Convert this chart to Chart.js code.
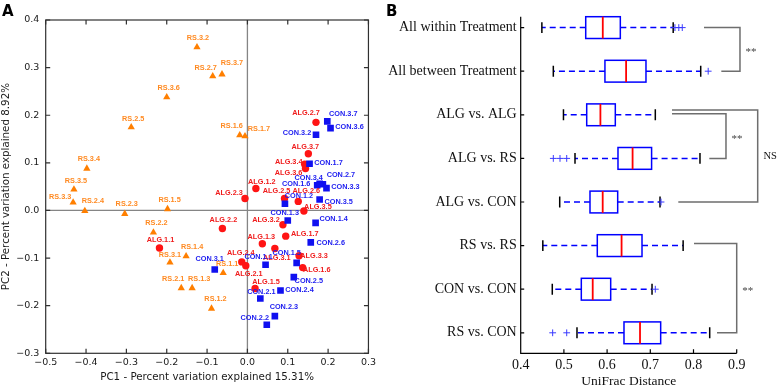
<!DOCTYPE html>
<html><head><meta charset="utf-8">
<script src="https://cdn.jsdelivr.net/npm/chart.js@4.4.1/dist/chart.umd.min.js"></script>
<style>
html,body{margin:0;padding:0;background:#fff;}
#wrap{position:relative;width:778px;height:388px;overflow:hidden;background:#fff;}
canvas{position:absolute;top:0;}
#ca{left:0;} #cb{left:380px;}
</style></head><body>
<div id="wrap"><canvas id="ca" width="380" height="388"></canvas><canvas id="cb" width="398" height="388"></canvas></div>
<script>
// ================= Panel A : PCoA =================
const rsLabels = ['RS.1.1','RS.1.2','RS.1.3','RS.1.4','RS.1.5','RS.1.6','RS.1.7','RS.2.1','RS.2.2','RS.2.3','RS.2.4','RS.2.5','RS.2.7','RS.3.1','RS.3.2','RS.3.3','RS.3.4','RS.3.5','RS.3.6','RS.3.7'];
const rsPC1 = [-0.060,-0.089,-0.137,-0.152,-0.198,-0.019,-0.006,-0.164,-0.233,-0.304,-0.403,-0.288,-0.086,-0.192,-0.125,-0.432,-0.398,-0.430,-0.200,-0.063];
const rsPC2 = [-0.131,-0.206,-0.163,-0.096,0.003,0.158,0.156,-0.163,-0.046,-0.007,-0.001,0.175,0.282,-0.109,0.343,0.017,0.088,0.044,0.238,0.286];

const algLabels = ['ALG.1.1','ALG.1.2','ALG.1.3','ALG.1.5','ALG.1.6','ALG.1.7','ALG.2.1','ALG.2.2','ALG.2.3','ALG.2.4','ALG.2.5','ALG.2.6','ALG.2.7','ALG.3.1','ALG.3.2','ALG.3.3','ALG.3.4','ALG.3.5','ALG.3.6','ALG.3.7'];
const algPC1 = [-0.218,0.021,0.037,0.019,0.137,0.095,-0.004,-0.062,-0.006,-0.014,0.092,0.126,0.170,0.068,0.088,0.128,0.142,0.140,0.144,0.151];
const algPC2 = [-0.079,0.046,-0.070,-0.164,-0.120,-0.054,-0.116,-0.038,0.025,-0.108,0.025,0.019,0.185,-0.080,-0.030,-0.095,0.097,-0.001,0.088,0.119];

const conLabels = ['CON.1.1','CON.1.2','CON.1.3','CON.1.4','CON.1.5','CON.1.6','CON.1.7','CON.2.1','CON.2.2','CON.2.3','CON.2.4','CON.2.5','CON.2.6','CON.2.7','CON.3.1','CON.3.2','CON.3.3','CON.3.4','CON.3.5','CON.3.6','CON.3.7'];
const conPC1 = [0.045,0.093,0.100,0.169,0.122,0.173,0.154,0.032,0.048,0.068,0.082,0.115,0.157,0.187,-0.081,0.170,0.196,0.179,0.179,0.206,0.198];
const conPC2 = [-0.114,0.014,-0.021,-0.026,-0.110,0.053,0.098,-0.185,-0.240,-0.222,-0.168,-0.140,-0.067,0.055,-0.124,0.159,0.047,0.056,0.023,0.173,0.187];

const xTicksA = [-0.5,-0.4,-0.3,-0.2,-0.1,0.0,0.1,0.2,0.3];
const yTicksA = [-0.3,-0.2,-0.1,0.0,0.1,0.2,0.3,0.4];

// ================= Panel B : UniFrac boxplots =================
const categories = ['All within Treatment','All between Treatment','ALG vs. ALG','ALG vs. RS','ALG vs. CON','RS vs. RS','CON vs. CON','RS vs. CON'];
const whiskerLow  = [0.449,0.4755,0.499,0.5257,0.4903,0.4512,0.4731,0.5303];
const q1          = [0.5505,0.595,0.5528,0.6252,0.5604,0.5773,0.5403,0.6391];
const median      = [0.590,0.644,0.5845,0.659,0.5898,0.6335,0.5667,0.6762];
const q3          = [0.6306,0.690,0.619,0.703,0.6245,0.6808,0.6083,0.724];
const whiskerHigh = [0.753,0.8167,0.7116,0.815,0.7225,0.776,0.704,0.8375];
const outliers    = [[0.757,0.766,0.774],[0.834],[],[0.4755,0.491,0.5065],[0.7248],[],[0.7116],[0.474,0.5065]];
const xTicksB = [0.4,0.5,0.6,0.7,0.8,0.9];
// significance brackets: rows (category positions) and x in UniFrac units
const bracketTop    = [1, 2.975, 2.89, 5.95];
const bracketBottom = [2, 4.0, 5.0, 8.0];
const bracketXTop   = [0.8243, 0.7502, 0.7502, 0.8012];
const bracketXBot   = [0.8644, 0.8366, 0.7648, 0.8544];
const bracketXRight = [0.9076, 0.8752, 0.9486, 0.9000];
const bracketText   = ['**','**','NS','**'];

// ---------- layout-only label nudges (pixels) ----------
const labelNudge = {
 'RS.3.2':[1,-9],'RS.2.7':[-7,-8],'RS.3.7':[10,-11],'RS.3.6':[2,-9],'RS.2.5':[2,-8],'RS.1.6':[-8,-9],'RS.1.7':[14,-7],
 'RS.3.4':[2,-10],'RS.3.5':[2,-9],'RS.3.3':[-13,-5],'RS.2.4':[8,-10],'RS.2.3':[2,-10],'RS.1.5':[2,-9],'RS.2.2':[3,-9],
 'RS.1.4':[6,-9],'RS.3.1':[0,-7],'RS.1.1':[4,-9],'RS.2.1':[-8,-9],'RS.1.3':[7,-9],'RS.1.2':[4,-10],
 'ALG.2.3':[-16,-6],'ALG.2.2':[1,-9],'ALG.1.1':[1,-8],'ALG.2.4':[-1,-9],'ALG.2.1':[3,8],'ALG.1.5':[11,-7],'ALG.1.3':[-1,-7],
 'ALG.1.7':[19,-2],'ALG.3.1':[2,9],'ALG.3.3':[15,0],'ALG.1.6':[14,2],'ALG.3.2':[-17,-5],'ALG.3.5':[14,-4],'ALG.1.2':[6,-7],
 'ALG.2.5':[-8,-8],'ALG.2.6':[8,-10],'ALG.3.4':[-16,-2],'ALG.3.6':[-17,4],'ALG.3.7':[-3,-7],'ALG.2.7':[-10,-9],
 'CON.3.7':[16,-7],'CON.3.6':[19,-1],'CON.3.2':[-19,-2],'CON.1.7':[19,-1],'CON.3.4':[-11,-6],'CON.2.7':[18,-9],'CON.1.6':[-21,-1],
 'CON.3.3':[19,-1],'CON.3.5':[19,2],'CON.1.2':[14,-8],'CON.1.3':[-3,-7],'CON.1.4':[18,-4],'CON.2.6':[20,1],'CON.1.5':[-10,-10],
 'CON.1.1':[-7,-8],'CON.3.1':[-5,-11],'CON.2.5':[15,4],'CON.2.4':[19,0],'CON.2.1':[1,-7],'CON.2.3':[9,-9],'CON.2.2':[-12,-7]
};

const ORANGE='#ff7f00', RED='#ff1414', BLUE='#1010f0';
const fmtA = v => (Math.abs(v)<1e-9 ? '0.0' : v.toFixed(1).replace('-', '\u2212'));
const pts = (xs, ys) => xs.map((x,i)=>({x, y: ys[i]}));

const groups = [
  {labels: rsLabels, pc1: rsPC1, pc2: rsPC2, color: '#ff8a22'},
  {labels: algLabels, pc1: algPC1, pc2: algPC2, color: '#f01c1c'},
  {labels: conLabels, pc1: conPC1, pc2: conPC2, color: '#1c1cf0'}
];

const panelA = {
  id: 'panelA',
  beforeDatasetsDraw(chart){
    const {ctx, chartArea:a, scales:{x,y}} = chart;
    ctx.save();
    ctx.strokeStyle = '#858585'; ctx.lineWidth = 1.3;
    const x0 = x.getPixelForValue(0), y0 = y.getPixelForValue(0);
    ctx.beginPath();
    ctx.moveTo(x0, a.top); ctx.lineTo(x0, a.bottom);
    ctx.moveTo(a.left, y0); ctx.lineTo(a.right, y0);
    ctx.stroke();
    ctx.restore();
  },
  afterDatasetsDraw(chart){
    const {ctx, chartArea:a, scales:{x,y}} = chart;
    ctx.save();
    ctx.font = 'bold 7.3px "Liberation Sans", Arial, sans-serif';
    ctx.textAlign = 'center'; ctx.textBaseline = 'middle';
    groups.forEach(g => g.labels.forEach((lab,i) => {
      const px = x.getPixelForValue(g.pc1[i]), py = y.getPixelForValue(g.pc2[i]);
      const n = labelNudge[lab] || [0,-9];
      ctx.fillStyle = g.color;
      ctx.fillText(lab, px + n[0], py + n[1]);
    }));
    // frame
    ctx.strokeStyle = '#303030'; ctx.lineWidth = 1.2;
    ctx.strokeRect(a.left, a.top, a.right - a.left, a.bottom - a.top);
    ctx.beginPath();
    xTicksA.forEach(v => { const p = x.getPixelForValue(v);
      ctx.moveTo(p, a.bottom); ctx.lineTo(p, a.bottom - 4.5);
      ctx.moveTo(p, a.top); ctx.lineTo(p, a.top + 4.5); });
    yTicksA.forEach(v => { const p = y.getPixelForValue(v);
      ctx.moveTo(a.left, p); ctx.lineTo(a.left + 4.5, p);
      ctx.moveTo(a.right, p); ctx.lineTo(a.right - 4.5, p); });
    ctx.stroke();
    // panel letter
    ctx.fillStyle = '#000'; ctx.font = 'bold 15px "DejaVu Sans", sans-serif';
    ctx.textAlign = 'left'; ctx.textBaseline = 'alphabetic';
    ctx.fillText('A', 2, 16);
    ctx.restore();
  }
};

new Chart(document.getElementById('ca'), {
  type: 'scatter',
  data: { datasets: [
    {label:'CON', data: pts(conPC1, conPC2), pointStyle:'rect', pointRadius:4.7, backgroundColor: BLUE, borderColor: BLUE, borderWidth:0},
    {label:'ALG', data: pts(algPC1, algPC2), pointStyle:'circle', pointRadius:3.7, backgroundColor: RED, borderColor: RED, borderWidth:0},
    {label:'RS', data: pts(rsPC1, rsPC2), pointStyle:'triangle', pointRadius:4.2, backgroundColor: ORANGE, borderColor: ORANGE, borderWidth:0}
  ]},
  options: {
    responsive:false, animation:false, devicePixelRatio:1,
    layout:{padding:{left:0, right:10.5, top:20, bottom:0}},
    plugins:{legend:{display:false}, tooltip:{enabled:false}},
    scales:{
      x:{type:'linear', min:-0.5, max:0.3,
         afterBuildTicks: s => { s.ticks = xTicksA.map(v => ({value:v})); },
         afterFit: s => { s.height = 34.7; },
         grid:{display:false, drawTicks:false}, border:{display:false},
         ticks:{padding:4, color:'#1a1a1a', autoSkip:false, maxRotation:0, font:{family:'DejaVu Sans', size:9.5}, callback: v => fmtA(v)},
         title:{display:true, text:'PC1 - Percent variation explained 15.31%', color:'#1a1a1a', font:{family:'DejaVu Sans', size:10.3, lineHeight:1.2}, padding:{top:0, bottom:4.8}}},
      y:{type:'linear', min:-0.3, max:0.4,
         afterBuildTicks: s => { s.ticks = yTicksA.map(v => ({value:v})); },
         afterFit: s => { s.width = 45.7; },
         grid:{display:false, drawTicks:false}, border:{display:false},
         ticks:{padding:6.4, color:'#1a1a1a', autoSkip:false, font:{family:'DejaVu Sans', size:9.5}, callback: v => fmtA(v)},
         title:{display:true, text:'PC2 - Percent variation explained 8.92%', color:'#1a1a1a', font:{family:'DejaVu Sans', size:10.3, lineHeight:1.2}, padding:{top:0, bottom:0}}}
    }
  },
  plugins:[panelA]
});

// ---------------- Panel B ----------------
const outlierPts = [];
outliers.forEach((arr,i) => arr.forEach(v => outlierPts.push({x:v, y:i+1})));

const panelB = {
  id:'panelB',
  beforeDatasetsDraw(chart){
    const {ctx, scales:{x,y}} = chart;
    const hb = Math.abs(y.getPixelForValue(1.25) - y.getPixelForValue(1));
    const hc = hb/2;
    ctx.save();
    categories.forEach((c,i) => {
      const yc = y.getPixelForValue(i+1);
      const pL = x.getPixelForValue(whiskerLow[i]), p1 = x.getPixelForValue(q1[i]),
            pm = x.getPixelForValue(median[i]), p3 = x.getPixelForValue(q3[i]), pH = x.getPixelForValue(whiskerHigh[i]);
      ctx.strokeStyle = '#0000ff'; ctx.lineWidth = 1.5; ctx.setLineDash([6,4]);
      ctx.beginPath(); ctx.moveTo(p1, yc); ctx.lineTo(pL, yc); ctx.stroke();
      ctx.beginPath(); ctx.moveTo(p3, yc); ctx.lineTo(pH, yc); ctx.stroke();
      ctx.setLineDash([]);
      ctx.strokeRect(p1, yc - hb, p3 - p1, 2*hb);
      ctx.strokeStyle = '#ff0000'; ctx.lineWidth = 1.8;
      ctx.beginPath(); ctx.moveTo(pm, yc - hb); ctx.lineTo(pm, yc + hb); ctx.stroke();
      ctx.strokeStyle = '#000'; ctx.lineWidth = 1.5;
      ctx.beginPath(); ctx.moveTo(pL, yc - hc); ctx.lineTo(pL, yc + hc);
      ctx.moveTo(pH, yc - hc); ctx.lineTo(pH, yc + hc); ctx.stroke();
    });
    ctx.restore();
  },
  afterDraw(chart){
    const {ctx, chartArea:a, scales:{x,y}} = chart;
    ctx.save();
    // axes
    ctx.strokeStyle = '#000'; ctx.lineWidth = 1.2;
    ctx.beginPath();
    ctx.moveTo(a.left, a.top); ctx.lineTo(a.left, a.bottom); ctx.lineTo(a.right, a.bottom);
    xTicksB.forEach(v => { const p = x.getPixelForValue(v); ctx.moveTo(p, a.bottom); ctx.lineTo(p, a.bottom - 4); });
    categories.forEach((c,i) => { const p = y.getPixelForValue(i+1); ctx.moveTo(a.left, p); ctx.lineTo(a.left + 3.5, p); });
    ctx.stroke();
    // brackets
    ctx.strokeStyle = '#6e6e6e'; ctx.lineWidth = 1.5;
    bracketText.forEach((t,i) => {
      const yt = y.getPixelForValue(bracketTop[i]), yb = y.getPixelForValue(bracketBottom[i]);
      const xr = x.getPixelForValue(bracketXRight[i]);
      ctx.beginPath();
      ctx.moveTo(x.getPixelForValue(bracketXTop[i]), yt); ctx.lineTo(xr, yt);
      ctx.lineTo(xr, yb); ctx.lineTo(x.getPixelForValue(bracketXBot[i]), yb);
      ctx.stroke();
      const ym = (yt + yb)/2;
      ctx.textAlign = 'center';
      if (t === 'NS') {
        ctx.fillStyle = '#111'; ctx.font = '10.5px "Liberation Serif", serif'; ctx.textBaseline = 'middle';
        ctx.fillText(t, xr + 12.5, ym);
      } else {
        ctx.fillStyle = '#444'; ctx.font = '11px "Liberation Serif", serif'; ctx.textBaseline = 'alphabetic';
        ctx.fillText(t, xr + 11, ym + 5.5);
      }
    });
    // panel letter
    ctx.fillStyle = '#000'; ctx.font = 'bold 15px "DejaVu Sans", sans-serif';
    ctx.textAlign = 'left'; ctx.textBaseline = 'alphabetic';
    ctx.fillText('B', 6, 16);
    ctx.restore();
  }
};

new Chart(document.getElementById('cb'), {
  type:'scatter',
  data:{ datasets:[
    {label:'outliers', data: outlierPts, pointStyle:'cross', pointRadius:3.4, borderColor:'#3a3aff', backgroundColor:'#3a3aff', borderWidth:1}
  ]},
  options:{
    responsive:false, animation:false, devicePixelRatio:1,
    layout:{padding:{left:0, right:41.3, top:16.7, bottom:0}},
    plugins:{legend:{display:false}, tooltip:{enabled:false}},
    scales:{
      x:{type:'linear', min:0.4, max:0.9,
         afterBuildTicks: s => { s.ticks = xTicksB.map(v => ({value:v})); },
         afterFit: s => { s.height = 34.7; },
         grid:{display:false, drawTicks:false}, border:{display:false},
         ticks:{padding:4, color:'#111', autoSkip:false, maxRotation:0, font:{family:'Liberation Serif', size:14}, callback: v => v.toFixed(1)},
         title:{display:true, text:'UniFrac Distance', color:'#111', font:{family:'Liberation Serif', size:13.5, lineHeight:1}, padding:{top:0, bottom:0}}},
      y:{type:'linear', min:0.75, max:8.47, reverse:true,
         afterBuildTicks: s => { s.ticks = categories.map((c,i) => ({value:i+1})); },
         afterFit: s => { s.width = 140.7; },
         grid:{display:false, drawTicks:false}, border:{display:false},
         ticks:{padding:4, color:'#111', autoSkip:false, font:{family:'Liberation Serif', size:14}, callback: v => categories[Math.round(v)-1]}}
    }
  },
  plugins:[panelB]
});
</script>
</body></html>
